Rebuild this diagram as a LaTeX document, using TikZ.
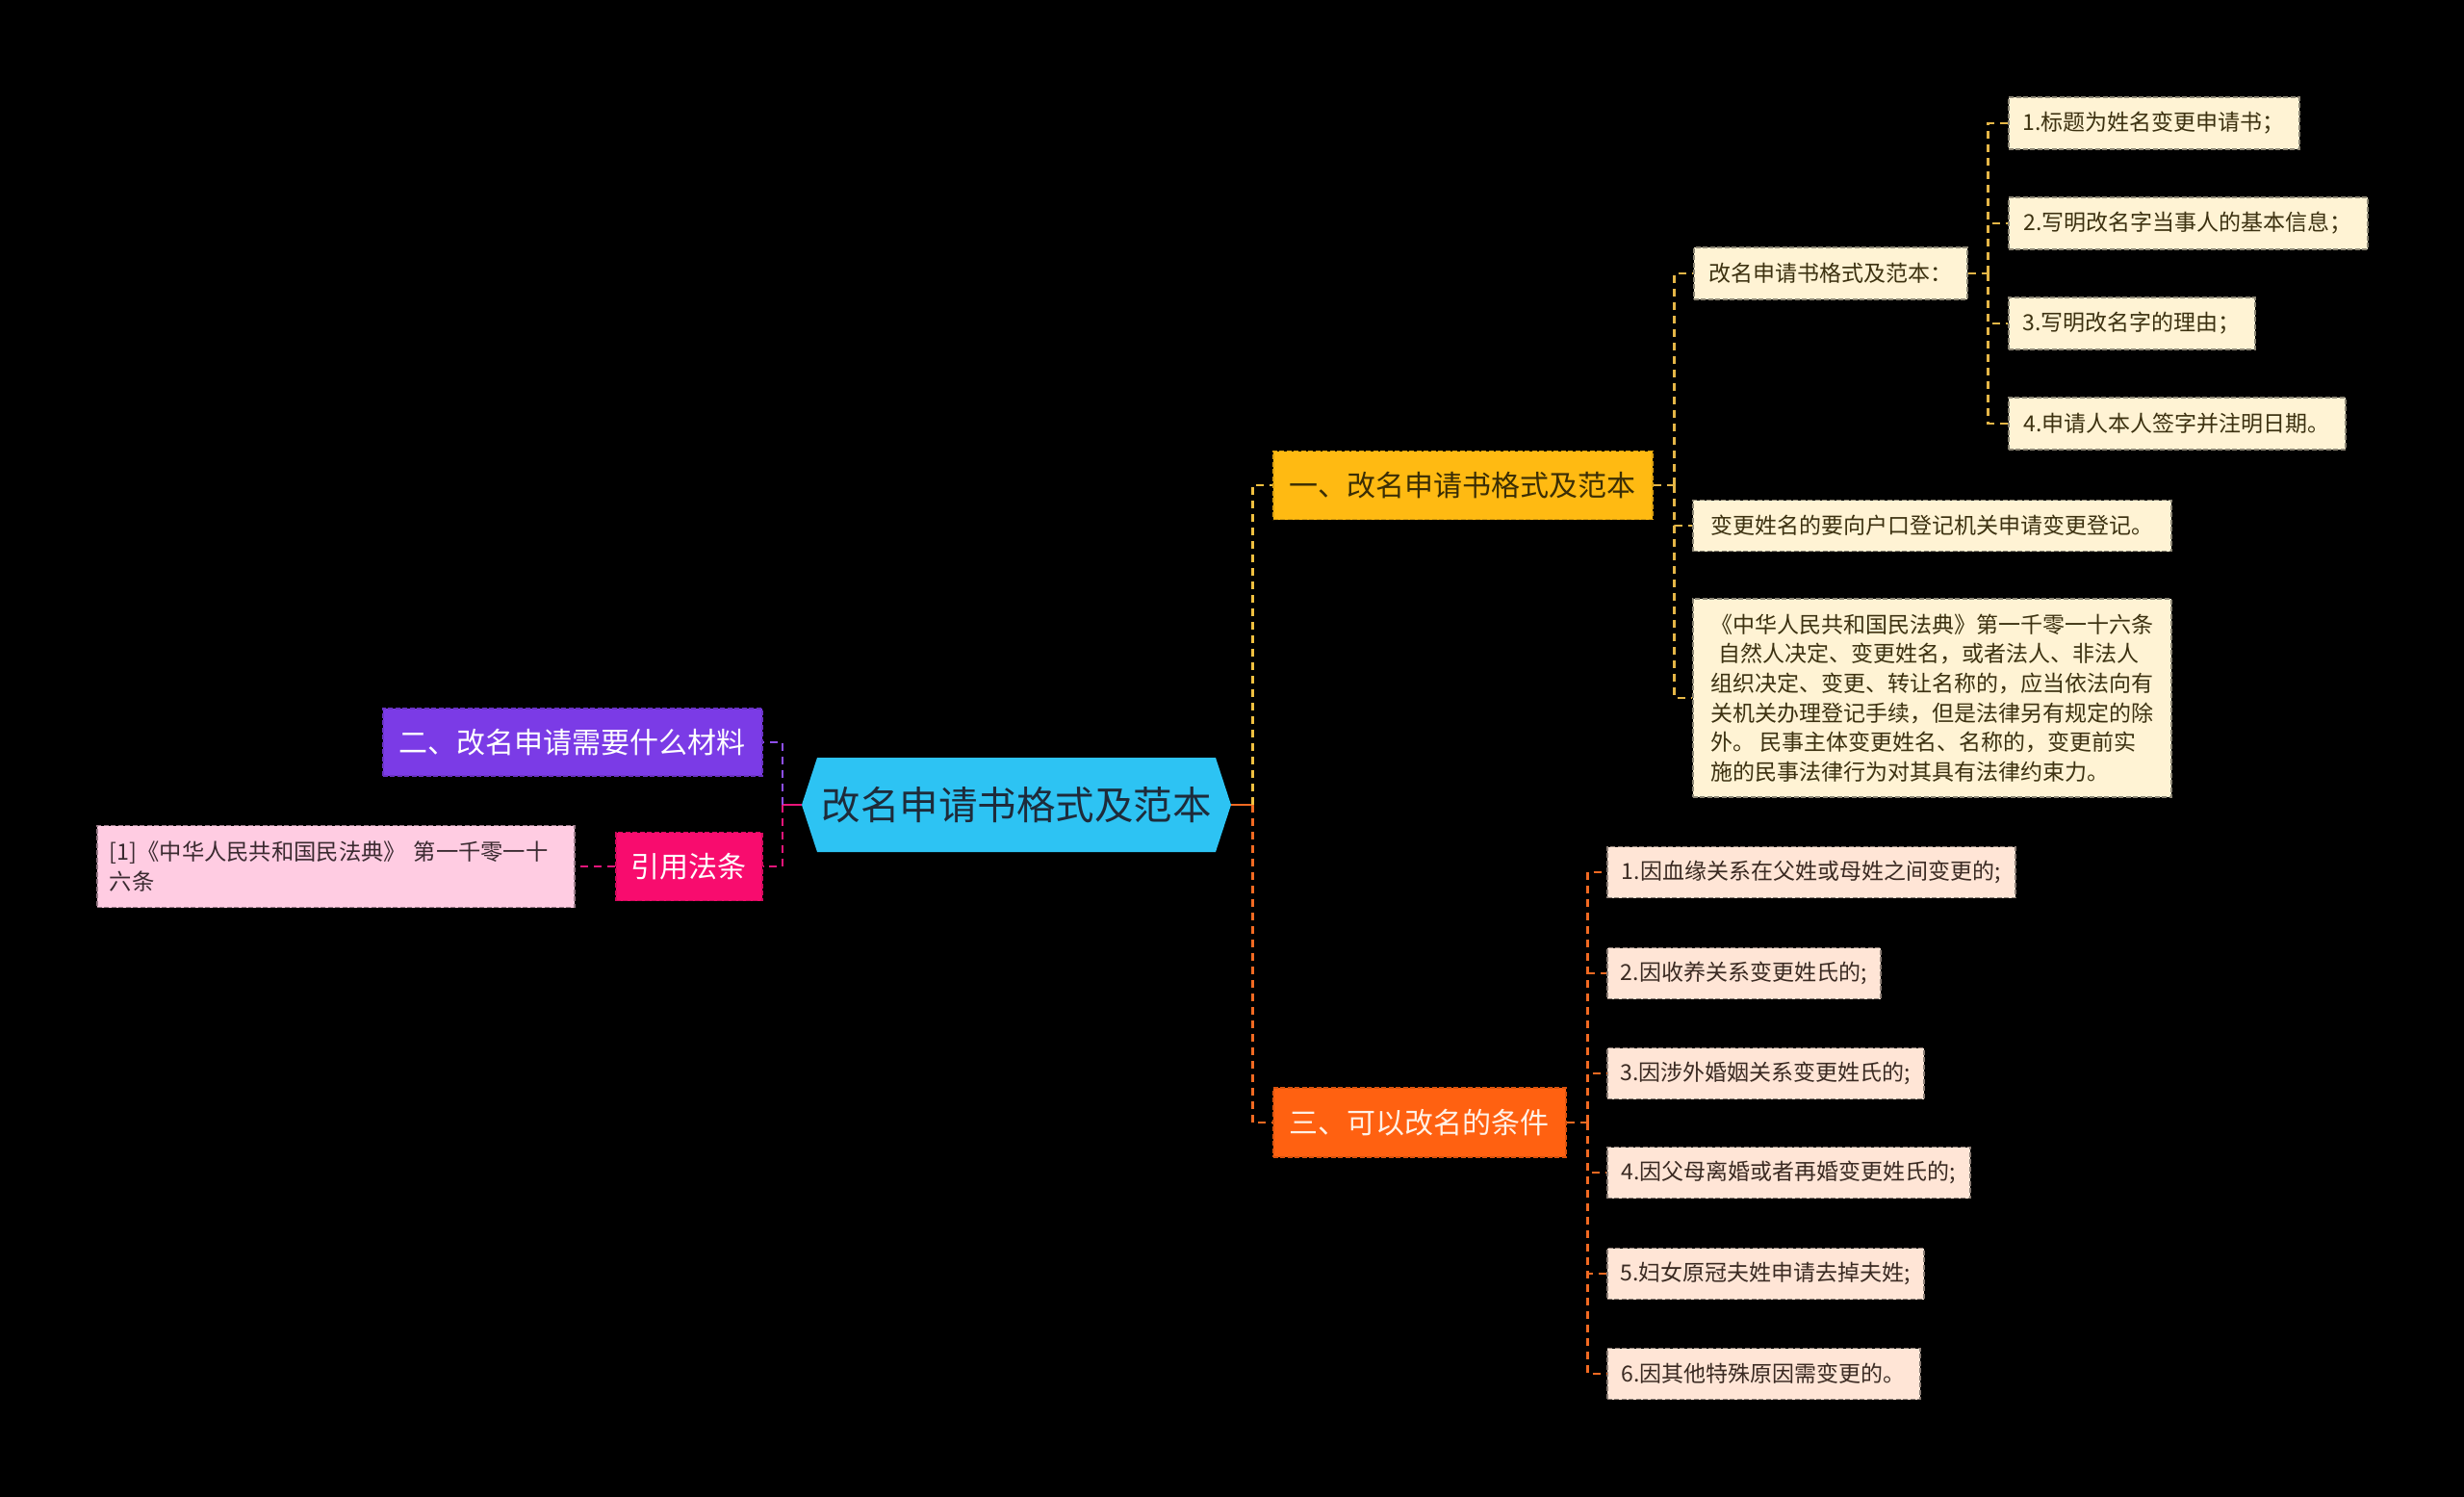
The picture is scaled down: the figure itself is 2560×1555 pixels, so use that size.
\documentclass[tikz,border=0pt]{standalone}
\usepackage{fontspec}
\newfontfamily\cjk{Noto Sans CJK SC}
\definecolor{cy}{HTML}{2DC3F3}
\definecolor{ctext}{HTML}{1E2B3A}
\definecolor{yl}{HTML}{FFBA12}
\definecolor{yltext}{HTML}{3B2E05}
\definecolor{og}{HTML}{FF6111}
\definecolor{ogtext}{HTML}{FFF1E6}
\definecolor{pu}{HTML}{7B3BE6}
\definecolor{mg}{HTML}{F80C6E}
\definecolor{ck}{HTML}{FFCCE2}
\definecolor{cktext}{HTML}{3A2A30}
\definecolor{cr}{HTML}{FFF3D4}
\definecolor{crtext}{HTML}{3C3110}
\definecolor{pe}{HTML}{FFE5D6}
\definecolor{petext}{HTML}{3A2A22}
\definecolor{lyl}{HTML}{F0C040}
\definecolor{lgd}{HTML}{E5B647}
\definecolor{log}{HTML}{F26A22}
\definecolor{lpu}{HTML}{8E4FF0}
\definecolor{lmg}{HTML}{E8157A}
\newcommand\fsA{\cjk\fontsize{30}{36}\selectfont}
\newcommand\fsB{\cjk\fontsize{23}{30.7}\selectfont}
\begin{document}
\begin{tikzpicture}[x=1pt,y=-1pt,
  box/.style={rectangle, anchor=west, inner sep=0pt, align=center, line width=1.5pt, dash pattern=on 5pt off 2.5pt},
  mainbox/.style={box, font=\fsA},
  leafY/.style={box, font=\fsB, fill=cr, draw=cr!55!black, text=crtext, minimum height=54pt},
  leafO/.style={box, font=\fsB, fill=pe, draw=pe!55!black, text=petext, minimum height=53pt},
  lnk/.style={line width=2.6pt, dash pattern=on 8pt off 6pt},
  stub/.style={line width=2.6pt},
]
\fill[black] (0,0) rectangle (2560,1555);
\useasboundingbox (0,0) rectangle (2560,1555);

% central hexagon
\fill[cy] (833,836) -- (849,787) -- (1263,787) -- (1279,836) -- (1263,885) -- (849,885) -- cycle;
\node[inner sep=0pt, minimum width=446pt, minimum height=98pt, font=\cjk\fontsize{40.5}{44}\selectfont, text=ctext] (c) at (1056,836) {改名申请书格式及范本};

% main branches
\node[mainbox, fill=yl, draw=yl!85!black, text=yltext, minimum width=394pt, minimum height=71pt] (b1) at (1322,504) {一、改名申请书格式及范本};
\node[mainbox, fill=og, draw=og!85!black, text=ogtext, minimum width=304pt, minimum height=72pt] (b3) at (1322,1166) {三、可以改名的条件};
\node[mainbox, fill=pu, draw=pu!85!black, text=white, minimum width=394pt, minimum height=70pt] (b2) at (397,771) {二、改名申请需要什么材料};
\node[mainbox, fill=mg, draw=mg!85!black, text=white, minimum width=152pt, minimum height=71pt] (ref) at (639,900) {引用法条};
\node[box, font=\cjk\fontsize{23.3}{31}\selectfont, fill=ck, draw=ck!60!black, text=cktext, text width=470pt, inner xsep=13pt, align=left, minimum height=85pt] (cite) at (100,900) {[1]《中华人民共和国民法典》 第一千零一十\\六条};

% branch 1 children
\node[leafY, minimum width=284pt] (f) at (1759,284) {改名申请书格式及范本：};
\node[leafY, minimum width=497pt, minimum height=53pt] (g) at (1758,546) {变更姓名的要向户口登记机关申请变更登记。};
\node[leafY, minimum width=497pt, minimum height=206pt, align=left] (p) at (1758,725) {《中华人民共和国民法典》第一千零一十六条\\\hspace*{8pt}自然人决定、变更姓名，或者法人、非法人\\组织决定、变更、转让名称的，应当依法向有\\关机关办理登记手续，但是法律另有规定的除\\外。 民事主体变更姓名、名称的，变更前实\\施的民事法律行为对其具有法律约束力。};

\node[leafY, minimum width=302pt] (f1) at (2086,128) {1.标题为姓名变更申请书；};
\node[leafY, minimum width=373pt] (f2) at (2086,232) {2.写明改名字当事人的基本信息；};
\node[leafY, minimum width=256pt] (f3) at (2086,336) {3.写明改名字的理由；};
\node[leafY, minimum width=350pt] (f4) at (2086,440) {4.申请人本人签字并注明日期。};

% branch 3 children
\node[leafO, minimum width=424pt] (o1) at (1669,906) {1.因血缘关系在父姓或母姓之间变更的;};
\node[leafO, minimum width=284pt] (o2) at (1669,1011) {2.因收养关系变更姓氏的;};
\node[leafO, minimum width=329pt] (o3) at (1669,1115) {3.因涉外婚姻关系变更姓氏的;};
\node[leafO, minimum width=377pt] (o4) at (1669,1218) {4.因父母离婚或者再婚变更姓氏的;};
\node[leafO, minimum width=329pt] (o5) at (1669,1323) {5.妇女原冠夫姓申请去掉夫姓;};
\node[leafO, minimum width=325pt] (o6) at (1669,1427) {6.因其他特殊原因需变更的。};

% connectors: centre right
\draw[stub, log] (c.east) -- ++(22,0) coordinate (jr);
\draw[lnk, lyl] (jr) |- (b1.west);
\draw[lnk, log] (jr) |- (b3.west);
% centre left
\draw[stub, lmg] (c.west) -- ++(-20,0) coordinate (jl);
\draw[lnk, lpu] (jl) |- (b2.east);
\draw[lnk, lmg] (jl) |- (ref.east);
\draw[lnk, lmg] (ref.west) -- (cite.east);
% branch 1
\draw[lnk, lgd] (b1.east) -- ++(22,0) coordinate (j1);
\draw[lnk, lgd] (j1) |- (f.west);
\draw[lnk, lgd] (j1) |- (g.west);
\draw[lnk, lgd] (j1) |- (p.west);
\draw[lnk, lgd] (f.east) -- ++(21,0) coordinate (j2);
\draw[lnk, lgd] (j2) |- (f1.west);
\draw[lnk, lgd] (j2) |- (f2.west);
\draw[lnk, lgd] (j2) |- (f3.west);
\draw[lnk, lgd] (j2) |- (f4.west);
% branch 3
\draw[lnk, log] (b3.east) -- ++(22,0) coordinate (j3);
\draw[lnk, log] (j3) |- (o1.west);
\draw[lnk, log] (j3) |- (o2.west);
\draw[lnk, log] (j3) |- (o3.west);
\draw[lnk, log] (j3) |- (o4.west);
\draw[lnk, log] (j3) |- (o5.west);
\draw[lnk, log] (j3) |- (o6.west);
\end{tikzpicture}
\end{document}
